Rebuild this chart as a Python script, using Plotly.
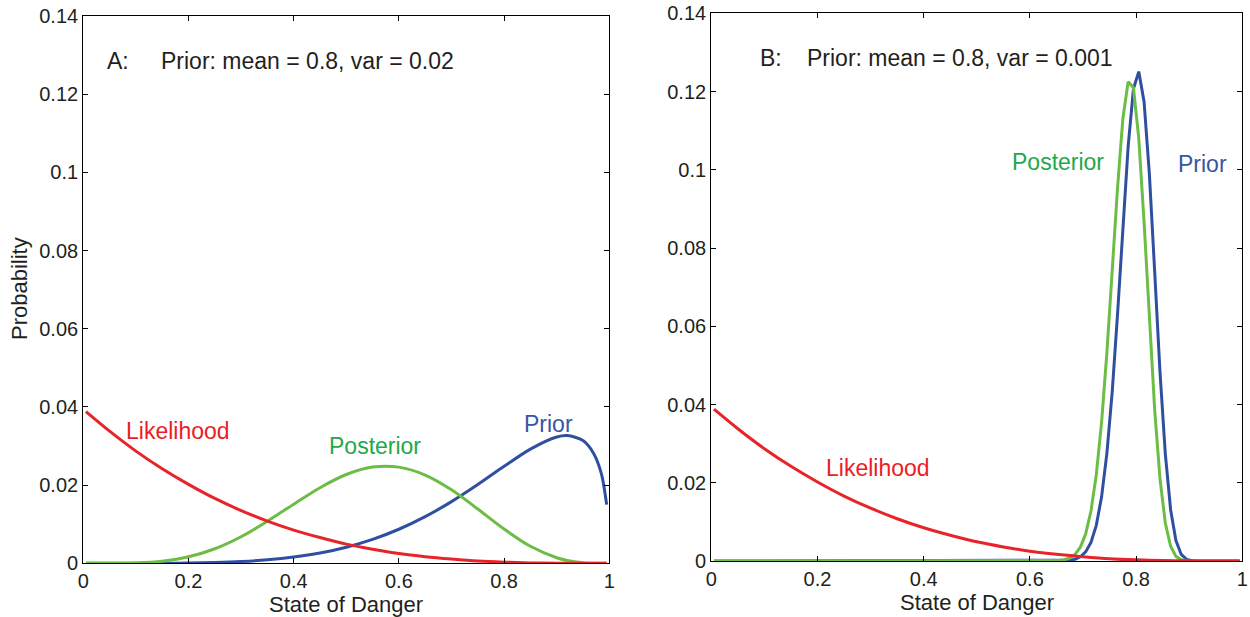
import plotly.graph_objects as go

# ---- data -------------------------------------------------------------
# Panel A: broad prior (mean 0.8, var 0.02)
state_a = [0.005, 0.05, 0.10, 0.15, 0.20, 0.25, 0.30, 0.35, 0.40, 0.45, 0.50,
           0.55, 0.60, 0.65, 0.70, 0.75, 0.80, 0.85, 0.90, 0.92, 0.95, 0.97,
           0.985, 0.995]
likelihood_a = [0.0388, 0.0338, 0.0287, 0.0242, 0.0202, 0.0166, 0.0135, 0.0108,
                0.0085, 0.0066, 0.0049, 0.0036, 0.0025, 0.0017, 0.0011, 0.0006,
                0.0003, 0.0001, 0.00004, 0.00002, 0.0, 0.0, 0.0, 0.0]
prior_a = [0.0, 0.0, 0.0, 0.00002, 0.00007, 0.0002, 0.00045, 0.00089, 0.00159,
           0.00263, 0.00412, 0.00612, 0.00871, 0.01193, 0.01578, 0.02015,
           0.02481, 0.02922, 0.03232, 0.0327, 0.03141, 0.02818, 0.0229, 0.0150]
posterior_a = [0.0, 0.0, 0.0001, 0.00054, 0.00166, 0.00372, 0.0068, 0.01076,
               0.01513, 0.01934, 0.02272, 0.02462, 0.0246, 0.02258, 0.0188,
               0.01389, 0.00875, 0.00435, 0.00143, 0.00074, 0.00017, 0.00003,
               0.0, 0.0]

# Panel B: narrow prior (mean 0.8, var 0.001); same likelihood as panel A
state_b = [0.005, 0.645, 0.655, 0.665, 0.675, 0.685, 0.695, 0.705, 0.715, 0.725,
           0.735, 0.745, 0.755, 0.765, 0.775, 0.785, 0.795, 0.805, 0.815, 0.825,
           0.835, 0.845, 0.855, 0.865, 0.875, 0.885, 0.895, 0.905, 0.915, 0.995]
prior_b = [0.0, 0.00001, 0.00003, 0.00007, 0.00019, 0.00046, 0.00107, 0.00232,
           0.00474, 0.00911, 0.01639, 0.02758, 0.04326, 0.06306, 0.08513,
           0.1059, 0.1207, 0.1251, 0.1174, 0.0989, 0.0739, 0.0483, 0.0274,
           0.0131, 0.00524, 0.00168, 0.00042, 0.00008, 0.00001, 0.0]
posterior_b = [0.0, 0.00005, 0.00013, 0.00032, 0.00076, 0.00168, 0.00352,
               0.00692, 0.01277, 0.02204, 0.03551, 0.05325, 0.07406, 0.09528,
               0.1130, 0.1225, 0.1210, 0.1081, 0.0866, 0.0617, 0.0386, 0.0210,
               0.00972, 0.00376, 0.00119, 0.0003, 0.00005, 0.00001, 0.0, 0.0]

x_ticks = [0, 0.2, 0.4, 0.6, 0.8, 1]
x_tick_text = ["0", "0.2", "0.4", "0.6", "0.8", "1"]
y_ticks = [0, 0.02, 0.04, 0.06, 0.08, 0.10, 0.12, 0.14]
y_tick_text = ["0", "0.02", "0.04", "0.06", "0.08", "0.1", "0.12", "0.14"]

# ---- styling ----------------------------------------------------------
RED = "#e8242b"
GREEN = "#6cbd45"
BLUE = "#2f4fa0"
RED_TXT = "#ec1c24"
GREEN_TXT = "#23a849"
BLUE_TXT = "#3a55a5"
INK = "#231f20"
FONT = "Liberation Sans, Arial, Helvetica, sans-serif"
W, H = 1250, 617

fig = go.Figure()


def add_line(x, y, color, xa, ya, shape):
    fig.add_trace(go.Scatter(
        x=x, y=y, mode="lines", xaxis=xa, yaxis=ya,
        line=dict(color=color, width=3, shape=shape,
                  smoothing=0.8 if shape == "spline" else None),
        showlegend=False, hoverinfo="skip"))


# panel A: prior, posterior, likelihood
add_line(state_a, prior_a, BLUE, "x", "y", "spline")
add_line(state_a, posterior_a, GREEN, "x", "y", "spline")
add_line(state_a, likelihood_a, RED, "x", "y", "spline")
# panel B
add_line(state_b, prior_b, BLUE, "x2", "y2", "linear")
add_line(state_b, posterior_b, GREEN, "x2", "y2", "linear")
add_line(state_a, likelihood_a, RED, "x2", "y2", "spline")

axis_common = dict(
    showline=True, linecolor="black", linewidth=1.3, mirror="allticks",
    ticks="inside", ticklen=5, tickcolor="black", tickwidth=1,
    showgrid=False, zeroline=False, automargin=False,
    tickfont=dict(family=FONT, size=20, color=INK),
)


def px_x(p):
    return p / W


def px_y(p):
    return 1 - p / H


fig.update_layout(
    width=W, height=H,
    margin=dict(l=0, r=0, t=0, b=0, autoexpand=False),
    paper_bgcolor="white", plot_bgcolor="white",
    font=dict(family=FONT, color=INK),
    xaxis=dict(domain=[px_x(83.3), px_x(609.3)], range=[0, 1], anchor="y",
               tickvals=x_ticks, ticktext=x_tick_text, **axis_common),
    yaxis=dict(domain=[px_y(563.3), px_y(16)], range=[0, 0.14], anchor="x",
               tickvals=y_ticks, ticktext=y_tick_text, **axis_common),
    xaxis2=dict(domain=[px_x(711.3), px_x(1242.3)], range=[0, 1], anchor="y2",
                tickvals=x_ticks, ticktext=x_tick_text, **axis_common),
    yaxis2=dict(domain=[px_y(561), px_y(13.3)], range=[0, 0.14], anchor="x2",
                tickvals=y_ticks, ticktext=y_tick_text, **axis_common),
)


def label(text, x, y, color=INK, size=23, angle=0, anchor="left"):
    fig.add_annotation(
        text=text, xref="paper", yref="paper", x=px_x(x), y=px_y(y),
        xanchor=anchor, yanchor="middle", showarrow=False, textangle=angle,
        font=dict(family=FONT, size=size, color=color))


# panel headings
label("A:", 105, 61)
label("Prior: mean = 0.8, var = 0.02", 159, 61)
label("B:", 758, 58)
label("Prior: mean = 0.8, var = 0.001", 805, 58)

# curve labels
label("Likelihood", 124, 431, RED_TXT)
label("Posterior", 327, 446, GREEN_TXT)
label("Prior", 522, 424, BLUE_TXT)
label("Likelihood", 824, 468, RED_TXT)
label("Posterior", 1010, 162, GREEN_TXT)
label("Prior", 1176, 164, BLUE_TXT)

# axis titles
label("State of Danger", 346, 604, anchor="center", size=22)
label("State of Danger", 977, 602, anchor="center", size=22)
label("Probability", 19, 289, angle=-90, anchor="center", size=22)

fig.write_html("out.html")
